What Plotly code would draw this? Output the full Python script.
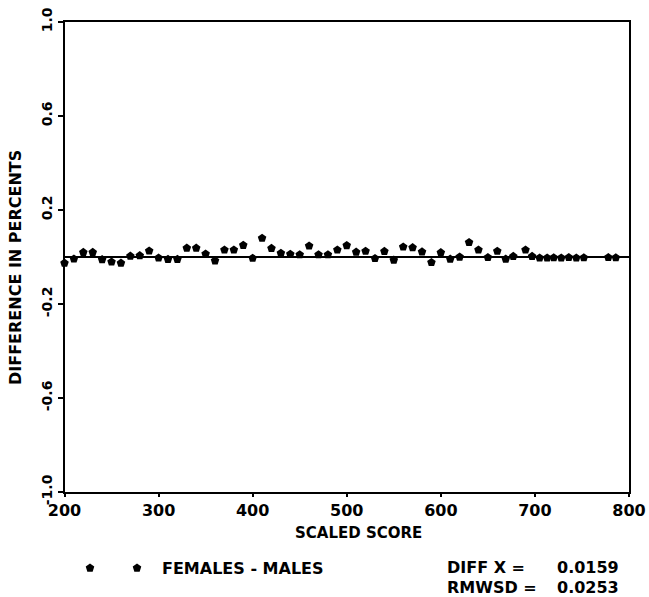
import plotly.graph_objects as go

W, H = 649, 597

# ---- data ----
scores = [200, 210, 220, 230, 240, 250, 260, 270, 280, 290,
          300, 310, 320, 330, 340, 350, 360, 370, 380, 390,
          400, 410, 420, 430, 440, 450, 460, 470, 480, 490,
          500, 510, 520, 530, 540, 550, 560, 570, 580, 590,
          600, 610, 620, 630, 640, 650, 660, 669, 677, 690,
          697, 705, 713, 720, 728, 736, 744, 752, 778, 786]
diffs = [-0.026, -0.008, 0.020, 0.020, -0.011, -0.021, -0.026, 0.004, 0.006, 0.026,
         -0.004, -0.010, -0.010, 0.038, 0.038, 0.013, -0.016, 0.030, 0.030, 0.050,
         -0.005, 0.080, 0.037, 0.016, 0.012, 0.010, 0.047, 0.010, 0.010, 0.030,
         0.049, 0.021, 0.025, -0.006, 0.024, -0.013, 0.043, 0.040, 0.022, -0.023,
         0.019, -0.009, 0.000, 0.062, 0.030, -0.002, 0.025, -0.009, 0.003, 0.030,
         0.003, -0.004, -0.004, -0.003, -0.004, -0.002, -0.004, -0.003, -0.002, -0.003]
ref_x = [200, 800]
ref_y = [0.0, 0.0]

x_ticks = [200, 300, 400, 500, 600, 700, 800]
x_tick_labels = ["200", "300", "400", "500", "600", "700", "800"]
y_ticks = [-1.0, -0.6, -0.2, 0.2, 0.6, 1.0]
y_tick_labels = ["-1.0", "-0.6", "-0.2", "0.2", "0.6", "1.0"]

legend_label = "FEMALES - MALES"
stat_names = ["DIFF X =", "RMWSD ="]
stat_values = ["0.0159", "0.0253"]

# ---- layout geometry (pixels) ----
PL, PR, PT, PB = 64.5, 629, 22, 492

font_b = dict(family="DejaVu Sans", color="black", weight="bold")


def px(xp):
    return xp / W


def py(yp):
    return 1 - yp / H


fig = go.Figure()
fig.add_trace(go.Scatter(x=ref_x, y=ref_y, mode="lines",
                         line=dict(color="black", width=2), showlegend=False))
fig.add_trace(go.Scatter(x=scores, y=diffs, mode="markers",
                         marker=dict(symbol="pentagon", size=9, color="black",
                                     line=dict(width=0)),
                         cliponaxis=False, showlegend=False))
# legend symbols, on an invisible full-figure axis in pixel units
fig.add_trace(go.Scatter(x=[90, 137], y=[568, 568], xaxis="x2", yaxis="y2",
                         mode="markers",
                         marker=dict(symbol="pentagon", size=9, color="black"),
                         showlegend=False, hoverinfo="skip"))

ann = []
ann.append(dict(x=px(160), y=py(568), xref="paper", yref="paper", text=legend_label,
                showarrow=False, xanchor="left", yanchor="middle",
                font=dict(size=16, **font_b)))
for i, (n, v) in enumerate(zip(stat_names, stat_values)):
    yy = 567 + 20 * i
    ann.append(dict(x=px(445), y=py(yy), xref="paper", yref="paper", text=n,
                    showarrow=False, xanchor="left", yanchor="middle",
                    font=dict(size=16, **font_b)))
    ann.append(dict(x=px(555), y=py(yy), xref="paper", yref="paper", text=v,
                    showarrow=False, xanchor="left", yanchor="middle",
                    font=dict(size=16, **font_b)))
ann.append(dict(x=px(358), y=py(533), xref="paper", yref="paper", text="SCALED SCORE",
                showarrow=False, xanchor="center", yanchor="middle",
                font=dict(size=15, **font_b)))
ann.append(dict(x=px(15), y=py(268), xref="paper", yref="paper",
                text="DIFFERENCE IN PERCENTS",
                showarrow=False, xanchor="center", yanchor="middle", textangle=-90,
                font=dict(size=16, **font_b)))

fig.update_layout(
    width=W, height=H, autosize=False,
    margin=dict(l=0, r=0, t=0, b=0),
    paper_bgcolor="white", plot_bgcolor="rgba(0,0,0,0)",
    xaxis=dict(domain=[PL / W, PR / W], range=[200, 800],
               tickvals=x_ticks, ticktext=x_tick_labels,
               showgrid=False, zeroline=False,
               showline=True, linecolor="black", linewidth=2, mirror=True,
               ticks="outside", ticklen=3, tickwidth=2, tickcolor="black",
               tickfont=dict(size=16, **font_b), automargin=False),
    yaxis=dict(domain=[1 - PB / H, 1 - PT / H], range=[-1, 1],
               tickvals=y_ticks, ticktext=y_tick_labels, tickangle=-90,
               showgrid=False, zeroline=False,
               showline=True, linecolor="black", linewidth=2, mirror=True,
               ticks="outside", ticklen=5, tickwidth=2, tickcolor="black",
               tickfont=dict(size=14, **font_b), automargin=False),
    xaxis2=dict(domain=[0, 1], range=[0, W], visible=False, anchor="y2"),
    yaxis2=dict(domain=[0, 1], range=[H, 0], visible=False, anchor="x2"),
    annotations=ann,
)

fig.write_html("out.html")
